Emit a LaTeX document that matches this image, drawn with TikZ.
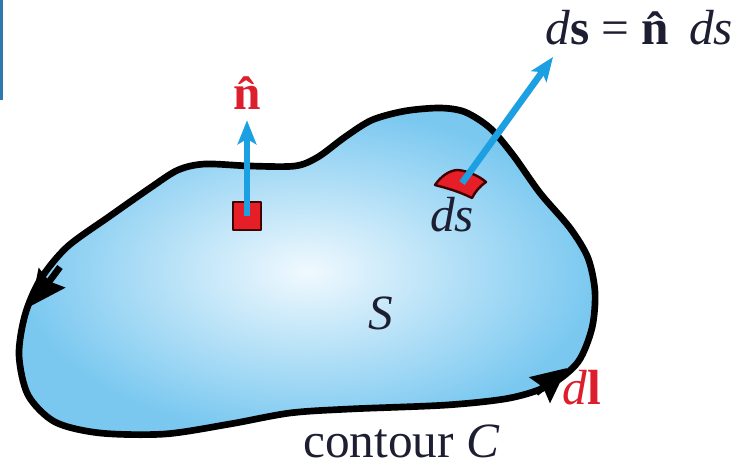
\documentclass[tikz,border=0pt]{standalone}
\usepackage{fontspec}
\setmainfont{Liberation Serif}
\usetikzlibrary{arrows.meta}
\definecolor{fillin}{RGB}{240,249,254}
\definecolor{fillout}{RGB}{122,200,240}
\definecolor{vecblue}{RGB}{28,160,225}
\definecolor{patchred}{RGB}{230,30,40}
\definecolor{labred}{RGB}{220,30,45}
\definecolor{ink}{RGB}{30,30,50}
\definecolor{barblue}{RGB}{45,120,175}
\begin{document}
\begin{tikzpicture}[x=0.75pt,y=-0.75pt,
  lab/.style={font=\fontsize{37}{42}\selectfont, text=ink, inner sep=0pt},
  redlab/.style={lab, text=labred},
  vec/.style={draw=vecblue, line width=5pt, -{Stealth[length=18pt,width=14pt,inset=4pt]}},
  carrow/.style={draw=black, line width=5pt, -{Stealth[length=26pt,width=24pt,inset=3pt]}},
  contourline/.style={draw=black, line width=5pt, line join=round},
  elem/.style={fill=patchred, draw=black!75!red, line width=1.8pt, line join=round}]
\useasboundingbox (0,0) rectangle (739,466);
\fill[barblue] (0,0) rectangle (2.5,100);
% surface S bounded by contour C
\shadedraw[inner color=fillin, outer color=fillout, contourline]
  plot[smooth cycle] coordinates {
  (440,108) (405,111) (372,120) (345,137) (318,157) (295,166) (250,166)
  (205,164) (178,170) (150,188) (110,216) (67,247) (40,280) (25,315)
  (19,355) (28,395) (55,422) (100,433) (165,434) (230,424) (290,413)
  (350,409) (447,405) (510,398) (550,385) (578,362) (592,328) (595,292)
  (588,258) (570,228) (540,193) (513,155) (490,128) (465,112)};
% direction arrows on the contour
\coordinate (la1) at (60,267);
\coordinate (la2) at (31,306);
\coordinate (ra1) at (536,393);
\coordinate (ra2) at (567,368);
\draw[carrow] (la1) -- (la2);
\draw[carrow] (ra1) -- (ra2);
% surface elements
\node[elem, minimum size=21pt, inner sep=0pt] (sq) at (247,216) {};
\coordinate (pc) at (462,183);
\draw[elem] (435,185) .. controls (441,176) and (450,170) .. (458,170)
  .. controls (468,171) and (479,176) .. (486,182)
  .. controls (480,186) and (475,192) .. (472,198)
  .. controls (458,191) and (446,188) .. (435,185) -- cycle;
% labels
\node[redlab, anchor=base] (nlab) at (247,110) {\bfseries\^{n}};
\node[lab, anchor=base west] (dseq) at (545,45) {\textit{d}\textbf{s} = \textbf{\^{n}} \textit{ds}};
\node[lab, anchor=base] (dsl) at (452,232) {\textit{ds}};
\node[lab, anchor=base] (Sl) at (381,330) {\textit{S}};
\node[redlab, anchor=base west] (dl) at (562,405) {\textit{d}\textbf{l}};
\node[lab, anchor=base west] (cc) at (303,457) {contour \textit{C}};
% normal vectors
\coordinate (dstip) at (553,57);
\draw[vec] (sq.center) -- ([yshift=-7.5pt]nlab.south);
\draw[vec] (pc) -- (dstip);
\end{tikzpicture}
\end{document}
